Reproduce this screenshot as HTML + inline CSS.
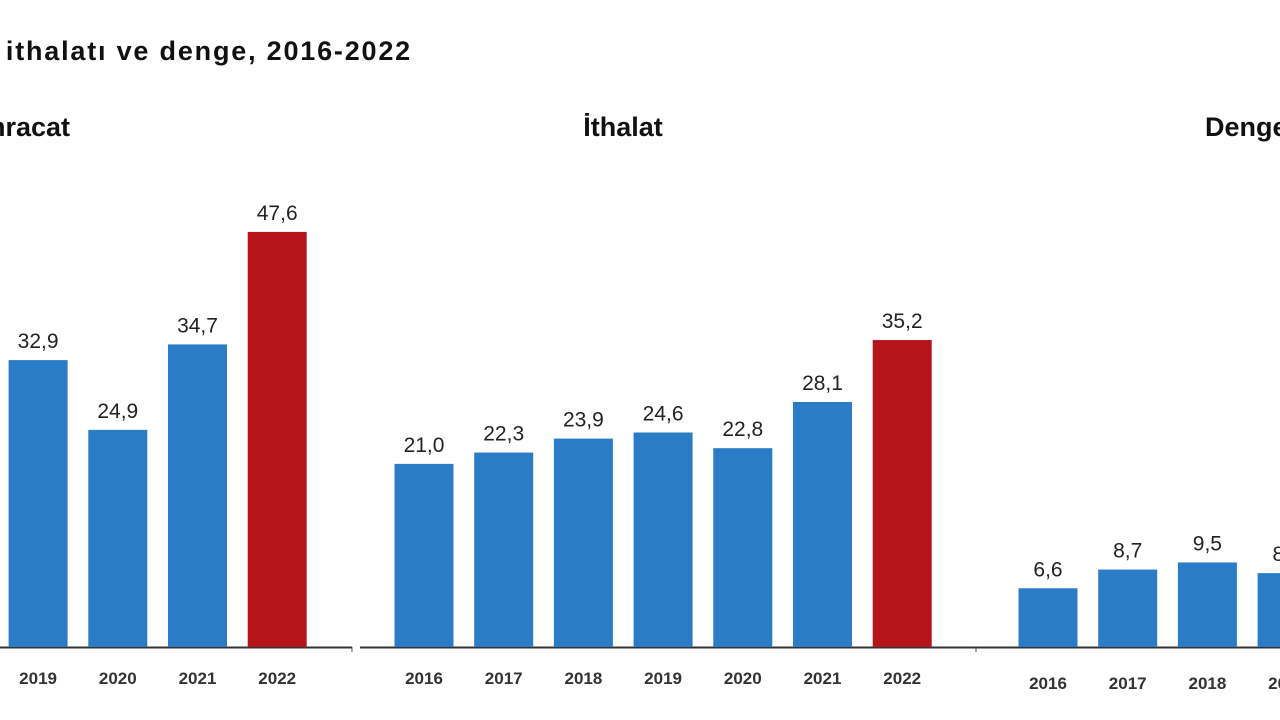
<!DOCTYPE html>
<html><head><meta charset="utf-8"><style>
html,body{margin:0;padding:0;background:#fff;width:1280px;height:720px;overflow:hidden}
svg{font-family:"Liberation Sans",Arial,sans-serif}
</style></head><body>
<svg id="chart" width="1280" height="720" xmlns="http://www.w3.org/2000/svg">
<text x="412" y="60" text-anchor="end" font-size="27" font-weight="bold" letter-spacing="1.8" fill="#111">Dış ticaret ihracatı, ithalatı ve denge, 2016-2022</text>
<g id="panels"></g>
</svg>
<script>
const years = ["2016","2017","2018","2019","2020","2021","2022"];
const exportValues = [27.0, 29.0, 31.0, 32.9, 24.9, 34.7, 47.6];
const importValues = [21.0, 22.3, 23.9, 24.6, 22.8, 28.1, 35.2];
const balanceValues = [6.6, 8.7, 9.5, 8.3, 2.1, 6.6, 12.4];
const panelTitles = ["İhracat","İthalat","Denge"];

const svg = document.getElementById('chart');
const NS = 'http://www.w3.org/2000/svg';
function mk(tag, attrs, parent){const e=document.createElementNS(NS,tag);for(const k in attrs)e.setAttribute(k,attrs[k]);parent.appendChild(e);return e;}

const panels = [
  {vals: exportValues, x0: -201, base: 647, scale: 8.72, title: panelTitles[0], tx: 70, ta:"end", axis:[-300,352], ticks:[352], yl:678, name:'exports'},
  {vals: importValues, x0: 424, base: 647, scale: 8.72, title: panelTitles[1], tx: 623, ta:"middle", axis:[360,976], ticks:[976], yl:678, name:'imports'},
  {vals: balanceValues, x0: 1048, base: 647, scale: 8.9, title: panelTitles[2], tx: 1205, ta:"start", axis:[940,1300], ticks:[976], yl:683, name:'balance'}
];
const step = 79.7, bw = 59;
const g = document.getElementById('panels');
panels.forEach(p=>{
  const t = mk('text',{x:p.tx,y:136,'text-anchor':p.ta,'font-size':27,'font-weight':'bold',fill:'#111'},g);
  
  
  t.textContent = p.title;
  const ax = mk('line',{x1:p.axis[0],x2:p.axis[1],y1:p.base+0.5,y2:p.base+0.5,stroke:'#333','stroke-width':2},g);
  
  
  p.ticks.forEach(tx=>{
    const tk = mk('line',{x1:tx,x2:tx,y1:p.base,y2:p.base+5,stroke:'#555','stroke-width':1},g);
    
    
  });
  p.vals.forEach((v,i)=>{
    const cx = p.x0 + i*step;
    const h = v*p.scale;
    const r = mk('rect',{x:cx-bw/2,y:p.base-h,width:bw,height:h,fill:i===6?'#b5141b':'#2a7cc7'},g);
    
    
    const lb = mk('text',{x:cx,y:p.base-h-12,'text-anchor':'middle','font-size':21,fill:'#222'},g);
    
    
    lb.textContent = v.toFixed(1).replace('.',',');
    const yl = mk('text',{x:cx,y:p.yl+6,'text-anchor':'middle','font-size':17,'font-weight':'bold',fill:'#333'},g);
    
    
    yl.textContent = years[i];
  });
});
</script>
</body></html>
